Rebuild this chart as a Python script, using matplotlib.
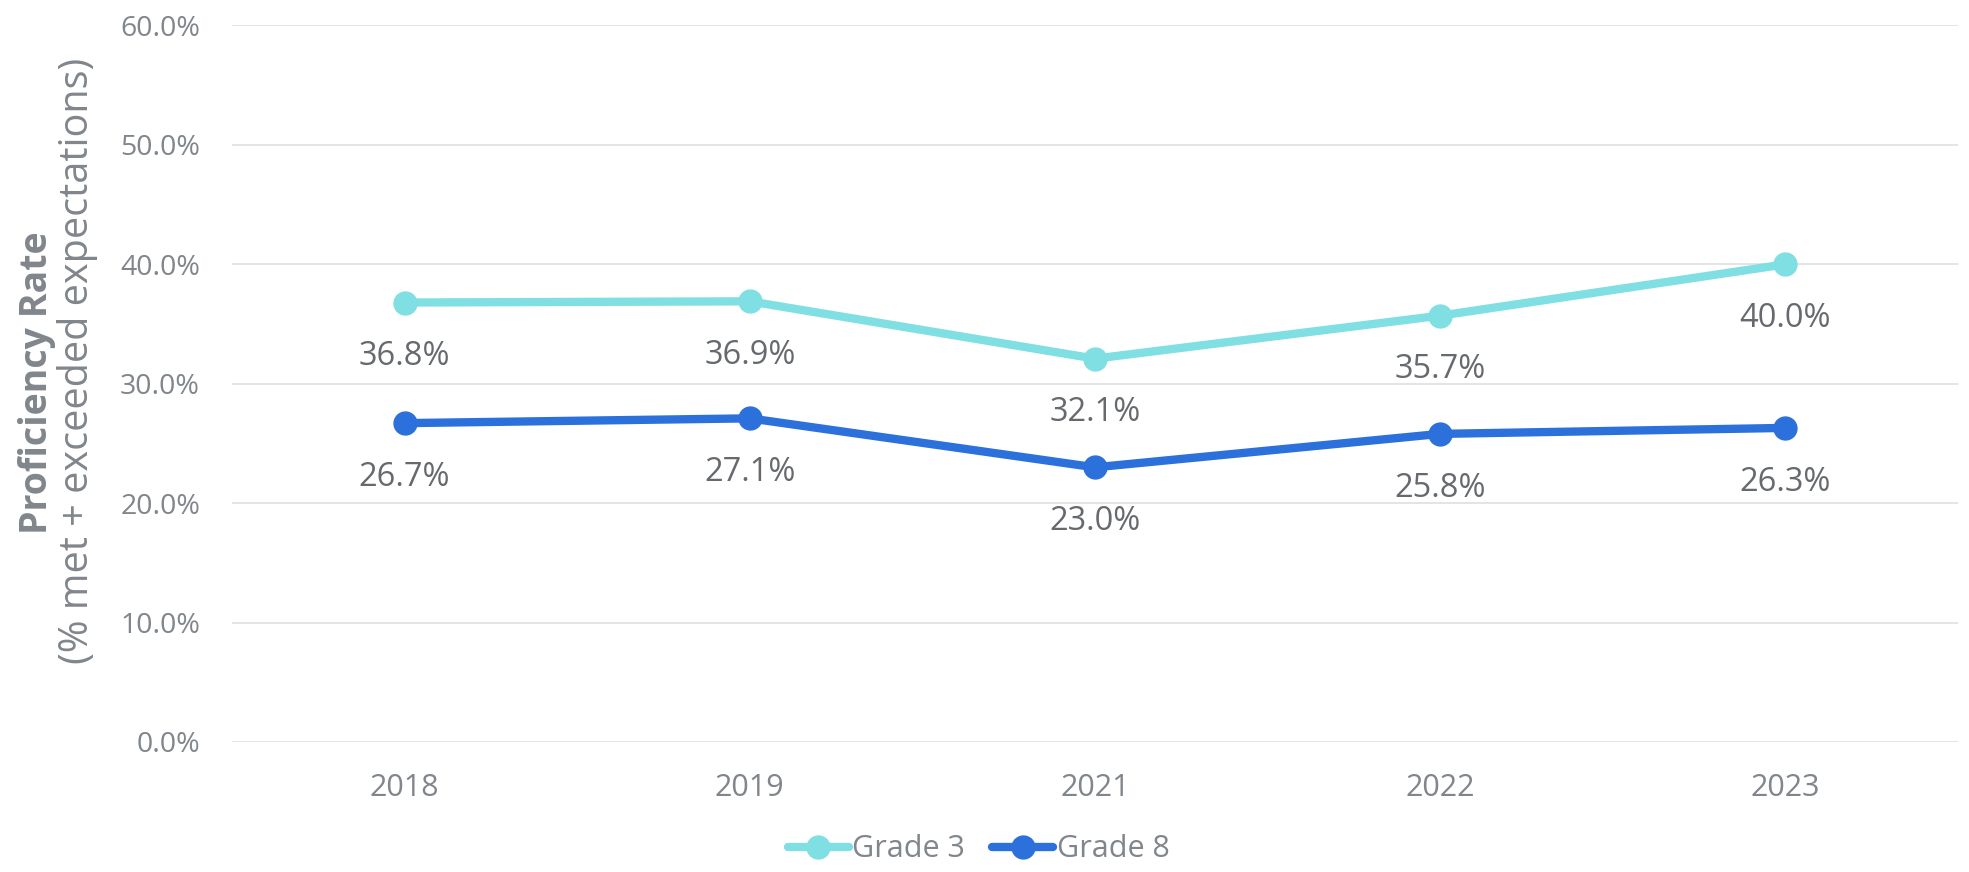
import matplotlib

matplotlib.use("Agg")
import matplotlib.pyplot as plt
from matplotlib.ticker import FuncFormatter

plt.rcParams["font.family"] = ["Open Sans", "DejaVu Sans"]

years = ["2018", "2019", "2021", "2022", "2023"]
grade_3 = [36.8, 36.9, 32.1, 35.7, 40.0]
grade_8 = [26.7, 27.1, 23.0, 25.8, 26.3]
series_names = ["Grade 3", "Grade 8"]
y_ticks = [0, 10, 20, 30, 40, 50, 60]

colours = ["#80dfe3", "#2c70dc"]
tick_colour = "#80868b"
label_colour = "#666a6e"

fig = plt.figure(figsize=(19.69, 8.72), dpi=100)
ax = fig.add_axes([0.1178, 0.1491, 0.8766, 0.8217])

x = list(range(len(years)))
handles = []
for values, name, colour in zip([grade_3, grade_8], series_names, colours):
    (line,) = ax.plot(
        x,
        values,
        color=colour,
        lw=6,
        marker="o",
        markersize=16.5,
        solid_capstyle="round",
        label=name,
        zorder=3,
    )
    handles.append(line)
    for xi, v in zip(x, values):
        ax.annotate(
            f"{v:.1f}%",
            (xi, v),
            xytext=(0, -39),
            textcoords="offset points",
            ha="center",
            va="center",
            fontsize=23.5,
            color=label_colour,
        )

ax.set_xlim(-0.5, len(years) - 0.5)
ax.set_ylim(0, 60)
ax.set_xticks(x)
ax.set_xticklabels(years)
ax.set_yticks(y_ticks)
ax.yaxis.set_major_formatter(FuncFormatter(lambda v, _: f"{v:.1f}%"))
ax.tick_params(axis="both", length=0, labelsize=22, labelcolor=tick_colour)
ax.tick_params(axis="x", pad=22)
ax.tick_params(axis="y", pad=23, labelsize=20.5)
ax.grid(axis="y", color="#e2e2e2", lw=1.3)
ax.set_axisbelow(True)
for spine in ax.spines.values():
    spine.set_visible(False)

fig.text(
    0.019, 0.561, "Proficiency Rate", rotation=90, ha="center", va="center",
    fontsize=27, fontweight="bold", color=tick_colour,
)
fig.text(
    0.0396, 0.586, "(% met + exceeded expectations)", rotation=90, ha="center",
    va="center", fontsize=28.5, color=tick_colour,
)

fig.legend(
    handles=handles,
    loc="center",
    bbox_to_anchor=(0.497, 0.026),
    ncol=2,
    frameon=False,
    fontsize=22,
    labelcolor=tick_colour,
    handlelength=2.0,
    handletextpad=0.1,
    columnspacing=0.9,
)

fig.savefig("out.png", dpi=100)
